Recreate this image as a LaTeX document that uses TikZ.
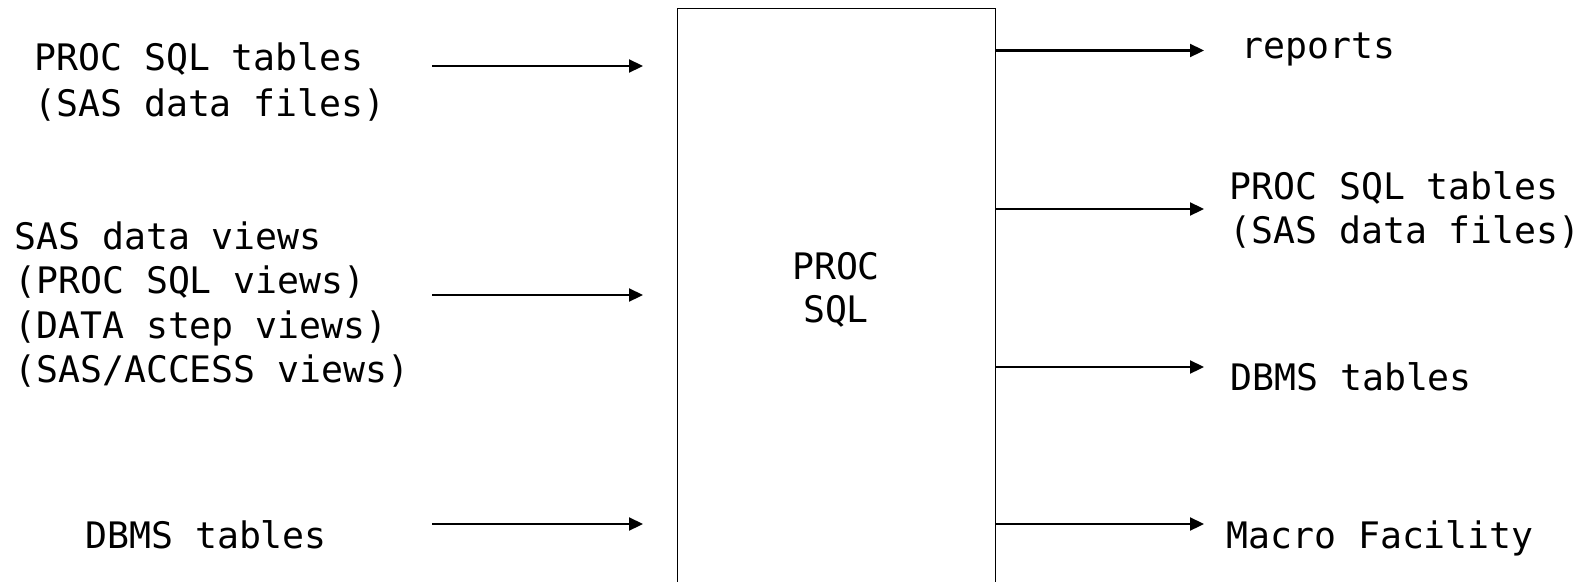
\documentclass[tikz,border=0pt]{standalone}
\usepackage{fontspec}
\newfontfamily\sasfont{DejaVu Sans Mono}
\usetikzlibrary{arrows.meta}
\begin{document}
\begin{tikzpicture}[x=1pt,y=-1pt,
  lbl/.style={font=\sasfont\fontsize{36.5}{44.5}\selectfont, inner sep=0pt, align=left, anchor=base west},
  arr/.style={line width=2.2pt, -{Triangle[length=14pt,width=13pt]}},
  procbox/.style={draw, line width=1.4pt, minimum width=318pt, minimum height=700pt, inner sep=0pt, anchor=north west}]
\useasboundingbox (0,0) rectangle (1584,581);
\clip (0,0) rectangle (1584,581);
\node[procbox] (proc) at (677,8) {};
% (base anchor of a multi-line node = baseline of its last line)
\node[lbl, align=center, anchor=base, font=\sasfont\fontsize{36.5}{43}\selectfont] (core) at (836,322) {PROC\\SQL};
% inputs
\node[lbl, font=\sasfont\fontsize{36.5}{46}\selectfont] (in1) at (34,116) {PROC SQL tables\\(SAS data files)};
\node[lbl] (in2) at (14,382.5) {SAS data views\\(PROC SQL views)\\(DATA step views)\\(SAS/ACCESS views)};
\node[lbl] (in3) at (85,548) {DBMS tables};
% outputs
\node[lbl] (out1) at (1241,58.5) {reports};
\node[lbl, font=\sasfont\fontsize{36.5}{44}\selectfont] (out2) at (1229,243.5) {PROC SQL tables\\(SAS data files)};
\node[lbl] (out3) at (1230,390) {DBMS tables};
\node[lbl] (out4) at (1226,548) {Macro Facility};
% arrow anchors
\coordinate (a1) at (432,66);
\coordinate (a2) at (432,295);
\coordinate (a3) at (432,524);
\coordinate (b1) at (1204,50.5);
\coordinate (b2) at (1204,209);
\coordinate (b3) at (1204,367);
\coordinate (b4) at (1204,524);
\draw[arr, shorten >=34pt] (a1) -- (a1 -| proc.west);
\draw[arr, shorten >=34pt] (a2) -- (a2 -| proc.west);
\draw[arr, shorten >=34pt] (a3) -- (a3 -| proc.west);
\draw[arr] (b1 -| proc.east) -- (b1);
\draw[arr] (b2 -| proc.east) -- (b2);
\draw[arr] (b3 -| proc.east) -- (b3);
\draw[arr] (b4 -| proc.east) -- (b4);
\end{tikzpicture}
\end{document}
